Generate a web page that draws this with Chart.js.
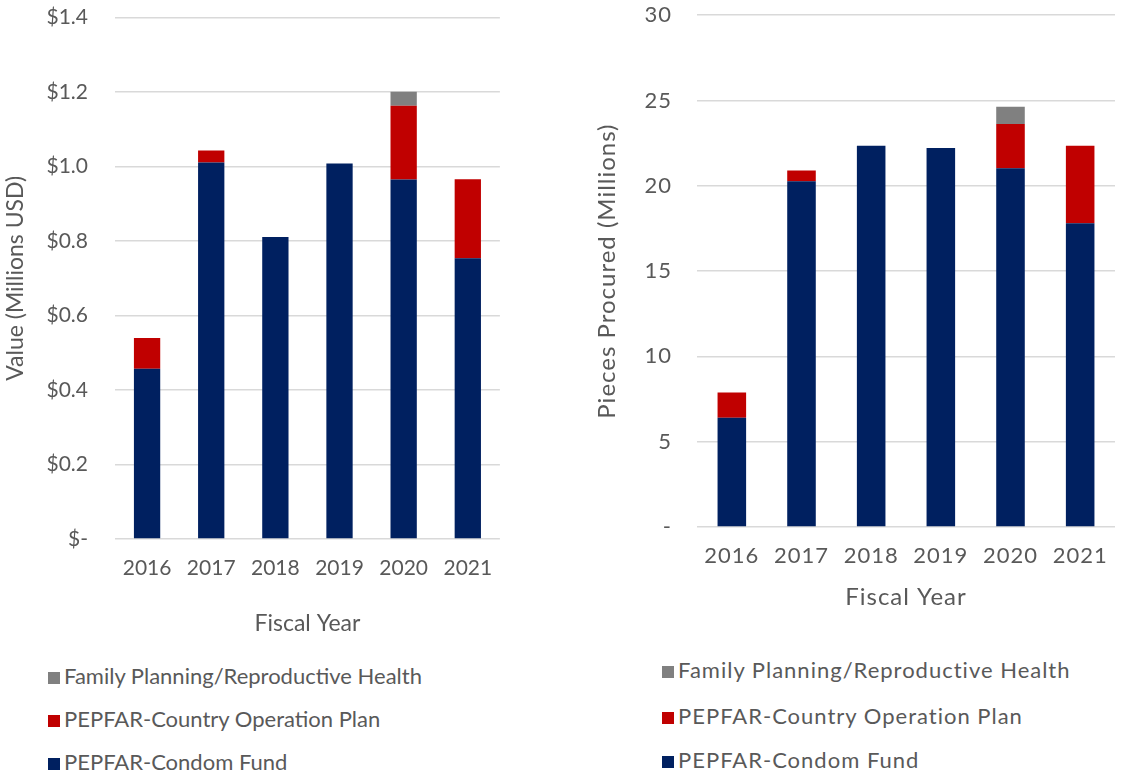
<!DOCTYPE html>
<html>
<head>
<meta charset="utf-8">
<script src="https://cdn.jsdelivr.net/npm/chart.js@4"></script>
<style>
  body { margin: 0; background: #fff; width: 1126px; height: 775px; position: relative; overflow: hidden; font-family: Lato, "Noto Sans", sans-serif; }
  #leftBox { position: absolute; left: 0; top: -22px; width: 510px; height: 672px; }
  #rightBox { position: absolute; left: 585px; top: -23px; width: 541px; height: 653px; }
  .legend { position: absolute; color: #595959; font-size: 22px; }
  .legend div { position: absolute; white-space: nowrap; line-height: 26px; }
  .legend span { display: inline-block; width: 12px; height: 12px; margin-right: 4px; vertical-align: 0px; }
</style>
</head>
<body>
<div id="leftBox"><canvas id="valueChart" width="510" height="672"></canvas></div>
<div id="rightBox"><canvas id="piecesChart" width="541" height="653"></canvas></div>
<div class="legend" id="leftLegend" style="left:48px;top:0"></div>
<div class="legend" id="rightLegend" style="left:662px;top:0;letter-spacing:1px"></div>
<script>
// data
const years = ["2016", "2017", "2018", "2019", "2020", "2021"];
const seriesNames = ["PEPFAR-Condom Fund", "PEPFAR-Country Operation Plan", "Family Planning/Reproductive Health"];
const seriesColors = ["#002060", "#C00000", "#808080"];

// value (millions USD)
const valueCondom = [0.457, 1.011, 0.811, 1.008, 0.965, 0.754];
const valueCOP = [0.083, 0.032, 0, 0, 0.198, 0.212];
const valueFPRH = [0, 0, 0, 0, 0.038, 0];
const valueTicks = ["$-", "$0.2", "$0.4", "$0.6", "$0.8", "$1.0", "$1.2", "$1.4"];

// pieces procured (millions)
const piecesCondom = [6.40, 20.26, 22.35, 22.21, 21.03, 17.80];
const piecesCOP = [1.48, 0.63, 0, 0, 2.59, 4.55];
const piecesFPRH = [0, 0, 0, 0, 1.02, 0];
const piecesTicks = ["-", "5", "10", "15", "20", "25", "30"];

const textColor = "#595959";
const fontFam = "Lato, 'Noto Sans', sans-serif";

function makeDatasets(lists, barPct) {
  return lists.map((d, i) => ({
    label: seriesNames[i],
    data: d,
    backgroundColor: seriesColors[i],
    borderWidth: 0,
    barPercentage: barPct,
    categoryPercentage: 1.0,
  }));
}

// letter spacing for the canvas text (right chart is drawn wider)
function spacingPlugin(px) {
  return {
    id: "spacing",
    beforeUpdate: (chart) => { chart.ctx.letterSpacing = px; },
    beforeDraw: (chart) => { chart.ctx.letterSpacing = px; },
  };
}

function makeChart(id, cfg) {
  return new Chart(document.getElementById(id), {
    type: "bar",
    data: {
      labels: years,
      datasets: makeDatasets(cfg.lists, cfg.barPct),
    },
    plugins: [spacingPlugin(cfg.spacing)],
    options: {
      responsive: false,
      animation: false,
      layout: { padding: cfg.padding },
      plugins: { legend: { display: false }, tooltip: { enabled: false } },
      scales: {
        x: {
          stacked: true,
          grid: { display: false, drawTicks: false },
          border: { display: false },
          ticks: { color: textColor, font: { family: fontFam, size: cfg.tickSize }, padding: cfg.xTickPad },
          title: { display: true, text: "Fiscal Year", color: textColor, font: { family: fontFam, size: cfg.titleSize }, padding: cfg.xTitlePad },
          afterFit: (s) => { s.height = cfg.xHeight; },
        },
        y: {
          stacked: true,
          min: 0,
          max: cfg.max,
          grid: { color: "#d9d9d9", lineWidth: 1.5, drawTicks: false },
          border: { display: false },
          ticks: {
            stepSize: cfg.step,
            color: textColor,
            font: { family: fontFam, size: cfg.tickSize },
            padding: cfg.yTickPad,
            callback: (v) => cfg.tickLabels[Math.round(v / cfg.step)],
          },
          title: { display: true, text: cfg.yTitle, color: textColor, font: { family: fontFam, size: cfg.titleSize }, padding: cfg.yTitlePad },
          afterFit: (s) => { s.width = cfg.yWidth; },
        },
      },
    },
  });
}

makeChart("valueChart", {
  lists: [valueCondom, valueCOP, valueFPRH],
  barPct: 0.41,
  max: 1.4,
  step: 0.2,
  tickLabels: valueTicks,
  yTitle: "Value (Millions USD)",
  padding: { top: 18, right: 10, left: 0, bottom: 0 },
  xHeight: 111,
  yWidth: 115,
  tickSize: 21,
  titleSize: 23,
  spacing: "0px",
  xTickPad: 17,
  yTickPad: 27,
  xTitlePad: { top: 0, bottom: 13 },
  yTitlePad: { top: 2, bottom: 0 },
});

makeChart("piecesChart", {
  lists: [piecesCondom, piecesCOP, piecesFPRH],
  barPct: 0.41,
  max: 30,
  step: 5,
  tickLabels: piecesTicks,
  yTitle: "Pieces Procured (Millions)",
  padding: { top: 14, right: 11, left: 0, bottom: 0 },
  xHeight: 103,
  yWidth: 112,
  tickSize: 22,
  titleSize: 24,
  spacing: "1px",
  xTickPad: 16,
  yTickPad: 25,
  xTitlePad: { top: 0, bottom: 18 },
  yTitlePad: { top: 8, bottom: 0 },
});

// legends (top to bottom, reverse of stack order)
function buildLegend(id, rowsY) {
  const box = document.getElementById(id);
  [2, 1, 0].forEach((idx, row) => {
    const item = document.createElement("div");
    item.style.top = (rowsY[row] - 13) + "px";
    item.innerHTML = '<span style="background:' + seriesColors[idx] + '"></span>' + seriesNames[idx];
    box.appendChild(item);
  });
}
buildLegend("leftLegend", [676, 719, 762]);
buildLegend("rightLegend", [670, 716, 760]);
</script>
</body>
</html>
